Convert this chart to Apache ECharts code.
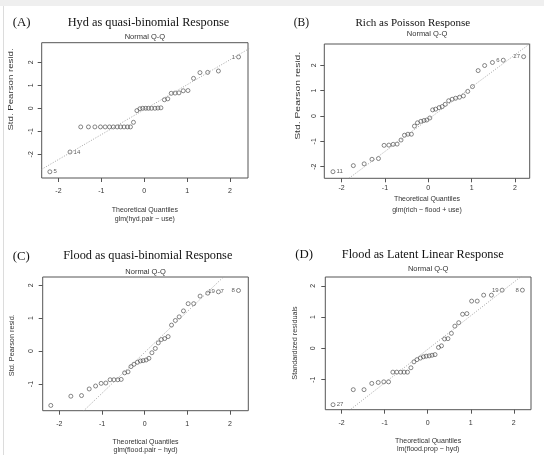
<!DOCTYPE html>
<html><head><meta charset="utf-8">
<script src="https://cdn.jsdelivr.net/npm/echarts@6/dist/echarts.min.js"></script>
<style>html,body{margin:0;padding:0;background:#fff}#c{width:544px;height:455px}</style>
</head><body><div id="c"></div>
<script>
// ---------- data ----------
const theoreticalQuantiles = [-2.20,-1.73,-1.48,-1.30,-1.15,-1.02,-0.91,-0.81,-0.72,-0.63,-0.55,-0.47,-0.39,-0.32,-0.25,-0.17,-0.10,-0.035,0.035,0.10,0.17,0.25,0.32,0.39,0.47,0.55,0.63,0.72,0.81,0.91,1.02,1.15,1.30,1.48,1.73,2.20];

const residA = [-2.76,-1.90,-0.81,-0.81,-0.81,-0.81,-0.81,-0.81,-0.81,-0.81,-0.81,-0.81,-0.81,-0.81,-0.61,-0.10,-0.02,0.00,0.00,0.00,0.00,0.00,0.01,0.02,0.37,0.41,0.65,0.66,0.67,0.76,0.77,1.30,1.55,1.56,1.62,2.23];
const residB = [-2.20,-1.96,-1.89,-1.71,-1.68,-1.16,-1.15,-1.12,-1.11,-0.95,-0.76,-0.72,-0.72,-0.40,-0.27,-0.21,-0.18,-0.16,-0.08,0.24,0.27,0.33,0.37,0.46,0.60,0.66,0.70,0.74,0.79,0.97,1.16,1.79,1.99,2.11,2.20,2.34];
const residC = [-1.65,-1.37,-1.35,-1.15,-1.06,-0.98,-0.97,-0.87,-0.87,-0.87,-0.86,-0.66,-0.63,-0.47,-0.40,-0.34,-0.30,-0.29,-0.27,-0.22,-0.05,0.08,0.25,0.35,0.38,0.44,0.79,0.93,1.04,1.22,1.44,1.44,1.67,1.76,1.80,1.84];
const residD = [-1.80,-1.32,-1.32,-1.12,-1.09,-1.07,-1.07,-0.76,-0.76,-0.76,-0.76,-0.76,-0.62,-0.43,-0.36,-0.31,-0.27,-0.25,-0.24,-0.22,-0.20,0.03,0.08,0.30,0.31,0.48,0.71,0.82,1.09,1.11,1.51,1.51,1.70,1.70,1.86,1.86];

// point identifiers: [rank (1-based), label]
const pointIdsA = [[1,'5'],[2,'14'],[36,'1']];
const pointIdsB = [[1,'11'],[35,'6'],[36,'27']];
const pointIdsC = [[35,'19'],[36,'8']];
const pointIdsCExtra = [[35,'7']];
const pointIdsD = [[1,'27'],[35,'19'],[36,'8']];

// qq reference lines (two points in data units)
const qqLineA = [[-2.5,-2.77],[2.5,2.65]];
const qqLineB = [[-2.5,-3.31],[2.5,3.05]];
const qqLineC = [[-2.5,-3.14],[2.5,3.06]];
const qqLineD = [[-2.5,-2.71],[2.5,2.65]];

const xTickValues = [-2,-1,0,1,2];
const yTickValuesAB = [-2,-1,0,1,2];
const yTickValuesCD = [-1,0,1,2];

const panelTags = ['(A)','(B)','(C)','(D)'];
const panelTitles = ['Hyd as quasi-binomial Response','Rich as Poisson Response','Flood as quasi-binomial Response','Flood as Latent Linear Response'];
const plotSubtitle = 'Normal Q-Q';
const xAxisTitle = 'Theoretical Quantiles';
const modelFormulas = ['glm(hyd.pair ~ use)','glm(rich ~ flood + use)','glm(flood.pair ~ hyd)','lm(flood.prop ~ hyd)'];
const yAxisTitles = ['Std. Pearson resid.','Std. Pearson resid.','Std. Pearson resid.','Standardized residuals'];

// ---------- layout ----------
const layout = [
 {box:[41.7,42.7,206.3,135.3], xr:[-2.39,2.42], yr:[-3.03,2.85], yt:yTickValuesAB, tagX:12.7, titleX:148.5, titleY:22.5, titleSize:12.3, subY:37.3, xtY:209.7, mY:218.8, ytX:11, ytY:89.5, ytScale:1.38, xm:10, ym:7},
 {box:[324.3,44,205.4,134.3], xr:[-2.40,2.34], yr:[-2.46,2.84], yt:yTickValuesAB, tagX:293.7, titleX:412.8, titleY:22.8, titleSize:11, subY:34, xtY:199, mY:210, ytX:297.7, ytY:95.8, ytScale:1.48, xm:6.5, ym:7},
 {box:[42.7,277,205.6,133.7], xr:[-2.39,2.43], yr:[-1.81,2.25], yt:yTickValuesCD, tagX:12.7, titleX:147.8, titleY:256.2, titleSize:12.3, subY:272, xtY:441.7, mY:449.7, ytX:12.3, ytY:345.2, ytScale:1.04, xm:10, ym:8},
 {box:[325.3,277,205.7,132.7], xr:[-2.38,2.40], yr:[-1.96,2.28], yt:yTickValuesCD, tagX:295.3, titleX:422.8, titleY:254.8, titleSize:12.3, subY:269, xtY:441, mY:448.7, ytX:295.3, ytY:343, ytScale:1.03, xm:10, ym:9}
];
const residuals = [residA,residB,residC,residD];
const pointIds = [pointIdsA,pointIdsB,pointIdsC,pointIdsD];
const extraIds = [[],[],pointIdsCExtra,[]];
const qqLines = [qqLineA,qqLineB,qqLineC,qqLineD];

const SANS = '"Liberation Sans", Arial, sans-serif';
const SERIF = '"Liberation Serif", "Times New Roman", serif';
const BOX = '#555';
const TXT = '#333';

const grids=[], xAxes=[], yAxes=[], series=[], graphics=[];

graphics.push({type:'rect', shape:{x:0,y:0,width:544,height:6}, style:{fill:'#efefef'}, silent:true});
graphics.push({type:'line', shape:{x1:3.5,y1:6,x2:3.5,y2:455}, style:{stroke:'#dcdcdc', lineWidth:1}, silent:true});

layout.forEach((L,k)=>{
  grids.push({left:L.box[0], top:L.box[1], width:L.box[2], height:L.box[3], show:true, borderColor:BOX, borderWidth:1, backgroundColor:'transparent'});
  xAxes.push({type:'value', gridIndex:k, min:L.xr[0], max:L.xr[1], position:'bottom',
    axisLine:{show:false, onZero:false}, splitLine:{show:false},
    axisTick:{show:true, length:4, customValues:xTickValues, lineStyle:{color:BOX, width:1}},
    axisLabel:{customValues:xTickValues, fontSize:7, fontFamily:SANS, color:TXT, margin:L.xm}});
  yAxes.push({type:'value', gridIndex:k, min:L.yr[0], max:L.yr[1], position:'left',
    axisLine:{show:false, onZero:false}, splitLine:{show:false},
    axisTick:{show:true, length:4, customValues:L.yt, lineStyle:{color:BOX, width:1}},
    axisLabel:{customValues:L.yt, rotate:90, fontSize:7, fontFamily:SANS, color:TXT, margin:L.ym}});
  // reference line
  series.push({type:'line', xAxisIndex:k, yAxisIndex:k, data:qqLines[k], showSymbol:false, symbol:'none', silent:true, clip:true,
    lineStyle:{color:'#9a9a9a', width:0.9, type:[1,1.6]}});
  // points
  const ids = pointIds[k];
  const data = theoreticalQuantiles.map((q,i)=>{
    const item = {value:[q, residuals[k][i]]};
    const id = ids.find(d=>d[0]===i+1);
    if(id){ item.label = {show:true, formatter:id[1], position: q>0?'left':'right', distance:1.2}; }
    return item;
  });
  series.push({type:'scatter', xAxisIndex:k, yAxisIndex:k, data:data, symbol:'circle', symbolSize:4,
    itemStyle:{color:'rgba(0,0,0,0)', borderColor:'#444', borderWidth:0.8},
    label:{show:false, fontSize:6, fontFamily:SANS, color:TXT}, silent:true});
  if(extraIds[k].length){
    series.push({type:'scatter', xAxisIndex:k, yAxisIndex:k, symbolSize:0, silent:true,
      data: extraIds[k].map(d=>({value:[theoreticalQuantiles[d[0]-1], residuals[k][d[0]-1]],
        label:{show:true, formatter:d[1], position:'right', distance:2}})),
      label:{fontSize:6, fontFamily:SANS, color:TXT}});
  }
  const cx = L.box[0] + L.box[2]/2;
  graphics.push({type:'text', x:L.tagX, y:L.titleY, silent:true, style:{text:panelTags[k], fontSize:L.titleSize+0.5, fontFamily:SERIF, fill:'#111', textAlign:'left', textVerticalAlign:'middle'}});
  graphics.push({type:'text', x:L.titleX, y:L.titleY, silent:true, style:{text:panelTitles[k], fontSize:L.titleSize, fontFamily:SERIF, fill:'#111', textAlign:'center', textVerticalAlign:'middle'}});
  graphics.push({type:'text', x:cx, y:L.subY, silent:true, style:{text:plotSubtitle, fontSize:7.5, fontFamily:SANS, fill:TXT, textAlign:'center', textVerticalAlign:'middle'}});
  graphics.push({type:'text', x:cx, y:L.xtY, silent:true, style:{text:xAxisTitle, fontSize:7, fontFamily:SANS, fill:TXT, textAlign:'center', textVerticalAlign:'middle'}});
  graphics.push({type:'text', x:cx, y:L.mY, silent:true, style:{text:modelFormulas[k], fontSize:7, fontFamily:SANS, fill:TXT, textAlign:'center', textVerticalAlign:'middle'}});
  graphics.push({type:'text', x:L.ytX, y:L.ytY, rotation:Math.PI/2, scaleX:L.ytScale, silent:true, style:{text:yAxisTitles[k], fontSize:7, fontFamily:SANS, fill:TXT, textAlign:'center', textVerticalAlign:'middle'}});
});

const chart = echarts.init(document.getElementById('c'), null, {renderer:'canvas'});
chart.setOption({animation:false, backgroundColor:'#fff', grid:grids, xAxis:xAxes, yAxis:yAxes, series:series, graphic:{elements:graphics}});
</script></body></html>
